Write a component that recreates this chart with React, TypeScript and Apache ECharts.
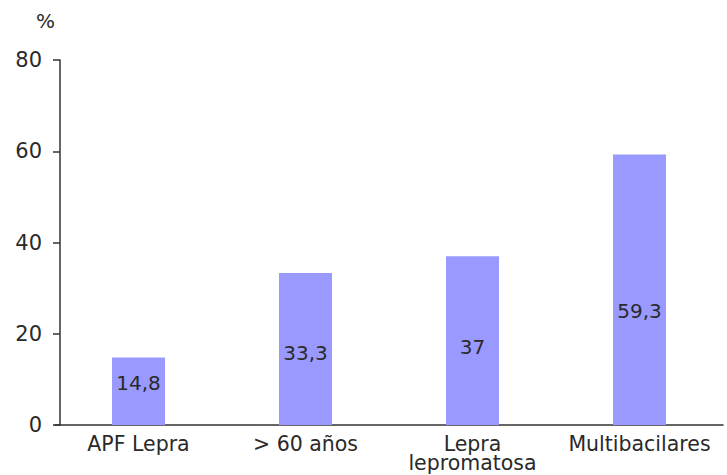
import React, { useEffect, useRef } from "react";
import * as echarts from "echarts";

const categories = ["APF Lepra", "> 60 años", "Lepra\nlepromatosa", "Multibacilares"];
const values = [14.8, 33.3, 37, 59.3];
const yTicks = [0, 20, 40, 60, 80];

const PLOT_H = 365;
const Y_MAX = 80;

function labelTopPct(v: number): string {
  const h = (v / Y_MAX) * PLOT_H;
  const fromTop = h * 0.645 - 18;
  return `${(fromTop / h) * 100}%`;
}

export default function App() {
  const ref = useRef<HTMLDivElement>(null);
  useEffect(() => {
    if (!ref.current) return;
    const chart = echarts.init(ref.current, undefined, { renderer: "svg" });
    chart.setOption({
      animation: false,
      backgroundColor: "#ffffff",
      textStyle: { fontFamily: "DejaVu Sans" },
      grid: {
        left: 55,
        right: 4,
        top: 60,
        bottom: 50,
        containLabel: false,
        outerBoundsMode: "none",
      },
      xAxis: {
        type: "category",
        data: categories,
        axisLine: { lineStyle: { color: "#333", width: 1.5 } },
        axisTick: { show: false },
        axisLabel: {
          color: "#2a2a2a",
          fontSize: 20.5,
          lineHeight: 19,
          margin: 9,
          interval: 0,
          fontFamily: "DejaVu Sans",
        },
      },
      yAxis: {
        type: "value",
        min: yTicks[0],
        max: yTicks[yTicks.length - 1],
        interval: 20,
        offset: -5,
        name: "%",
        nameLocation: "end",
        nameGap: 29,
        nameTextStyle: {
          color: "#2a2a2a",
          fontSize: 20,
          align: "right",
          padding: [0, 5, 0, 0],
          fontFamily: "DejaVu Sans",
        },
        splitLine: { show: false },
        axisLine: { show: true, lineStyle: { color: "#333", width: 1.5 } },
        axisTick: { show: true, length: 7, lineStyle: { color: "#333", width: 1.5 } },
        axisLabel: {
          color: "#2a2a2a",
          fontSize: 21,
          margin: 18,
          fontFamily: "DejaVu Sans",
        },
      },
      series: [
        {
          type: "bar",
          barWidth: 53,
          data: values.map((v) => ({
            value: v,
            label: { position: ["50%", labelTopPct(v)] },
          })),
          itemStyle: { color: "#9999ff" },
          label: {
            show: true,
            color: "#2a2a2a",
            fontSize: 20,
            align: "center",
            verticalAlign: "middle",
            fontFamily: "DejaVu Sans",
            formatter: (p: any) => String(p.value).replace(".", ","),
          },
        },
      ],
    });
    return () => chart.dispose();
  }, []);
  return <div ref={ref} style={{ width: 727, height: 475, position: "fixed", left: 0, top: 0 }} />;
}
